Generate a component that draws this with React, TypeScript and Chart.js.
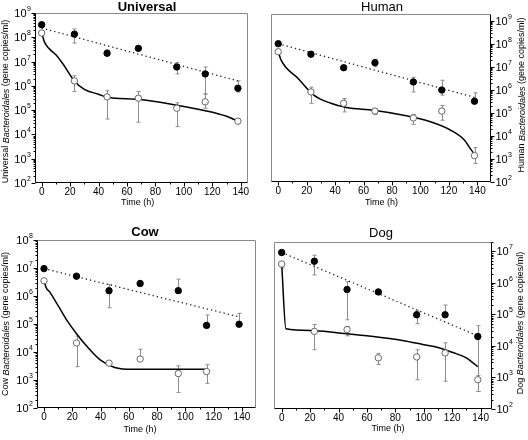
import React, { useEffect, useRef } from 'react';
import { Chart, registerables } from 'chart.js';
Chart.register(...registerables);

const FONT = '"Liberation Sans", Arial, sans-serif';
const xTickValues = [0, 20, 40, 60, 80, 100, 120, 140];

const hours = [0, 23, 46, 68, 95, 115, 138];
const cowOpenHours = [0, 23, 46, 68, 95, 115];

// ---- Universal ----
const uniFilled = [3.3e8, 1.35e8, 2.2e7, 3.5e7, 6.0e6, 3.1e6, 8.0e5];
const uniFilledHi = [3.3e8, 2.2e8, 3.0e7, 4.0e7, 9.1e6, 6.0e6, 1.6e6];
const uniFilledLo = [3.3e8, 5.8e7, 1.8e7, 3.2e7, 3.1e6, 4.6e5, 5.6e5];
const uniOpen = [1.5e8, 1.6e6, 3.5e5, 3.1e5, 1.2e5, 2.2e5, 3.5e4];
const uniOpenHi = [1.5e8, 2.6e6, 6.3e5, 5.8e5, 2.0e5, 4.6e5, 3.5e4];
const uniOpenLo = [1.5e8, 5.8e5, 4.3e4, 3.2e4, 2.1e4, 1.2e5, 3.5e4];
const uniFitT = [0, 2, 5, 10, 15, 23, 30, 40, 46, 68, 95, 115, 130, 138];
const uniFitV = [1.5e8, 6.3e7, 3.5e7, 1.9e7, 7.9e6, 1.6e6, 7.2e5, 4.5e5, 3.4e5, 2.8e5, 1.6e5, 9.5e4, 5.6e4, 3.5e4];
const uniTrendT = [0, 138];
const uniTrendV = [2.4e8, 1.6e6];

// ---- Human ----
const humFilled = [1.0e8, 3.5e7, 9.1e6, 1.5e7, 2.2e6, 9.8e5, 3.2e5];
const humFilledHi = [1.0e8, 3.5e7, 1.1e7, 2.1e7, 3.5e6, 2.6e6, 7.4e5];
const humFilledLo = [1.0e8, 3.5e7, 7.5e6, 1.0e7, 8.1e5, 5.9e5, 3.2e5];
const humOpen = [4.5e7, 8.1e5, 2.6e5, 1.2e5, 6.0e4, 1.2e5, 1.4e3];
const humOpenHi = [4.5e7, 1.3e6, 4.2e5, 1.5e5, 8.5e4, 2.1e5, 3.1e3];
const humOpenLo = [4.5e7, 2.6e5, 1.1e5, 8.5e4, 3.2e4, 4.8e4, 6.3e2];
const humFitT = [0, 2, 14, 25, 37, 48, 67, 88, 107, 121, 131, 135, 138];
const humFitV = [4.5e7, 1.95e7, 3.1e6, 5.9e5, 2.6e5, 1.7e5, 1.3e5, 7.9e4, 4.1e4, 1.8e4, 6.5e3, 2.8e3, 1.6e3];
const humTrendT = [0, 138];
const humTrendV = [1.0e8, 4.7e5];

// ---- Cow ----
const cowFilled = [9.5e6, 5.1e6, 1.55e6, 2.8e6, 1.55e6, 8.9e4, 9.8e4];
const cowFilledHi = [9.5e6, 5.1e6, 2.6e6, 3.3e6, 4.0e6, 2.1e5, 2.4e5];
const cowFilledLo = [9.5e6, 5.1e6, 3.8e5, 2.4e6, 1.55e6, 8.9e4, 9.8e4];
const cowOpen = [3.5e6, 2.1e4, 4.0e3, 5.6e3, 1.7e3, 2.0e3];
const cowOpenHi = [3.5e6, 3.7e4, 4.3e3, 1.26e4, 3.2e3, 3.5e3];
const cowOpenLo = [3.5e6, 3.0e3, 4.0e3, 5.6e3, 3.6e2, 7.6e2];
const cowFitT = [0, 1.5, 4, 10, 16, 23, 30, 40, 50, 63, 80, 115];
const cowFitV = [3.5e6, 2.0e6, 1.4e6, 4.5e5, 1.4e5, 4.5e4, 1.66e4, 5.1e3, 2.8e3, 2.4e3, 2.4e3, 2.4e3];
const cowTrendT = [0, 138];
const cowTrendV = [9.5e6, 1.8e5];

// ---- Dog ----
const dogFilled = [9.3e6, 4.9e6, 6.2e5, 5.2e5, 9.8e4, 9.8e4, 2.0e4];
const dogFilledHi = [9.3e6, 7.6e6, 1.1e6, 5.2e5, 1.3e5, 2.0e5, 4.4e4];
const dogFilledLo = [9.3e6, 1.8e6, 6.8e4, 5.2e5, 5.1e4, 9.8e4, 3.6e2];
const dogOpen = [4.0e6, 2.9e4, 3.3e4, 4.2e3, 4.5e3, 6.0e3, 8.5e2];
const dogOpenHi = [4.0e6, 4.8e4, 4.2e4, 5.8e3, 7.6e3, 1.26e4, 1.15e3];
const dogOpenLo = [3.0e6, 7.6e3, 2.1e4, 2.6e3, 8.5e2, 7.6e2, 3.6e2];
const dogFitT = [0, 3, 20, 40, 60, 85, 100, 110, 120, 130, 136, 138];
const dogFitV = [4.0e6, 3.5e4, 3.1e4, 2.6e4, 2.1e4, 1.5e4, 1.1e4, 8.9e3, 6.3e3, 4.2e3, 2.6e3, 2.2e3];
const dogTrendT = [0, 138];
const dogTrendV = [9.3e6, 2.1e4];

const pts = (xs: number[], ys: number[]) => xs.map((x, i) => ({ x, y: ys[i] }));

type Panel = {
  name: string; boldTitle: boolean; left: number; top: number;
  pad: { left: number; top: number; right: number; bottom: number };
  yW: number; xH: number; yPos: 'left' | 'right';
  xMin: number; xMax: number; yMin: number; yMax: number;
  titleXY: [number, number]; yTitleXY: [number, number]; xTitleXY: [number, number];
  filledT: number[]; filled: number[]; filledHi: number[]; filledLo: number[];
  openT: number[]; open: number[]; openHi: number[]; openLo: number[];
  fitT: number[]; fitV: number[]; trendT: number[]; trendV: number[];
};

const panels: Panel[] = [
  {
    name: 'Universal', boldTitle: true, left: 0, top: 0,
    pad: { left: 0, top: 13, right: 16, bottom: 0 }, yW: 35, xH: 37, yPos: 'left',
    xMin: -4.7, xMax: 145.1, yMin: 1e2, yMax: 1e9,
    titleXY: [147, 7], yTitleXY: [6, 101.5], xTitleXY: [137.7, 203],
    filledT: hours, filled: uniFilled, filledHi: uniFilledHi, filledLo: uniFilledLo,
    openT: hours, open: uniOpen, openHi: uniOpenHi, openLo: uniOpenLo,
    fitT: uniFitT, fitV: uniFitV, trendT: uniTrendT, trendV: uniTrendV,
  },
  {
    name: 'Human', boldTitle: false, left: 264, top: 0,
    pad: { left: 7, top: 14, right: 0, bottom: 0 }, yW: 37, xH: 38, yPos: 'right',
    xMin: -5.1, xMax: 149.6, yMin: 1e2, yMax: 1.95e9,
    titleXY: [118, 7], yTitleXY: [258, 95], xTitleXY: [117.5, 203],
    filledT: hours, filled: humFilled, filledHi: humFilledHi, filledLo: humFilledLo,
    openT: hours, open: humOpen, openHi: humOpenHi, openLo: humOpenLo,
    fitT: humFitT, fitV: humFitV, trendT: humTrendT, trendV: humTrendV,
  },
  {
    name: 'Cow', boldTitle: true, left: 0, top: 220,
    pad: { left: 0, top: 20, right: 8.5, bottom: 0 }, yW: 36.5, xH: 32, yPos: 'left',
    xMin: -5.3, xMax: 149.6, yMin: 1e2, yMax: 1e8,
    titleXY: [145, 12], yTitleXY: [6, 104], xTitleXY: [140, 210],
    filledT: hours, filled: cowFilled, filledHi: cowFilledHi, filledLo: cowFilledLo,
    openT: cowOpenHours, open: cowOpen, openHi: cowOpenHi, openLo: cowOpenLo,
    fitT: cowFitT, fitV: cowFitV, trendT: cowTrendT, trendV: cowTrendV,
  },
  {
    name: 'Dog', boldTitle: false, left: 264, top: 220,
    pad: { left: 10, top: 22, right: 0, bottom: 0 }, yW: 36, xH: 31, yPos: 'right',
    xMin: -5.4, xMax: 148, yMin: 1e2, yMax: 2.0e7,
    titleXY: [117, 13], yTitleXY: [256.7, 103], xTitleXY: [124, 209],
    filledT: hours, filled: dogFilled, filledHi: dogFilledHi, filledLo: dogFilledLo,
    openT: hours, open: dogOpen, openHi: dogOpenHi, openLo: dogOpenLo,
    fitT: dogFitT, fitV: dogFitV, trendT: dogTrendT, trendV: dogTrendV,
  },
];

const decorPlugin = {
  id: 'decor',
  beforeDatasetsDraw(chart: any, _a: any, opts: any) {
    const ctx = chart.ctx;
    const xs = chart.scales.x, ys = chart.scales.y;
    ctx.save();
    ctx.strokeStyle = '#8c8c8c';
    ctx.lineWidth = 1;
    for (const eb of opts.errorBars || []) {
      eb.t.forEach((t: number, i: number) => {
        const px = Math.round(xs.getPixelForValue(t)) + 0.5;
        const yv = ys.getPixelForValue(eb.v[i]);
        const yh = ys.getPixelForValue(eb.hi[i]);
        const yl = ys.getPixelForValue(eb.lo[i]);
        ctx.beginPath();
        if (yv - yh > 1) {
          ctx.moveTo(px, yv); ctx.lineTo(px, yh);
          ctx.moveTo(px - 2, yh); ctx.lineTo(px + 2, yh);
        }
        if (yl - yv > 1) {
          ctx.moveTo(px, yv); ctx.lineTo(px, yl);
          ctx.moveTo(px - 2, yl); ctx.lineTo(px + 2, yl);
        }
        ctx.stroke();
      });
    }
    ctx.restore();
  },
  afterDraw(chart: any, _a: any, opts: any) {
    const ctx = chart.ctx;
    const { left, right, top, bottom } = chart.chartArea;
    const xs = chart.scales.x, ys = chart.scales.y;
    const L = Math.round(left) + 0.5, R = Math.round(right) - 0.5;
    const T = Math.round(top) + 0.5, B = Math.round(bottom) - 0.5;
    const yRight = opts.yPos === 'right';
    ctx.save();
    ctx.lineWidth = 1;
    // gray frame sides
    ctx.strokeStyle = '#8a8a8a';
    ctx.beginPath();
    ctx.moveTo(L, T); ctx.lineTo(R, T);
    if (yRight) { ctx.moveTo(L, T); ctx.lineTo(L, B); } else { ctx.moveTo(R, T); ctx.lineTo(R, B); }
    ctx.stroke();
    // black axes
    ctx.strokeStyle = '#000';
    ctx.beginPath();
    ctx.moveTo(L, B); ctx.lineTo(R, B);
    const AX = yRight ? R : L;
    ctx.moveTo(AX, T); ctx.lineTo(AX, B);
    const dir = yRight ? 1 : -1;
    const d0 = Math.floor(Math.log10(ys.min)), d1 = Math.ceil(Math.log10(ys.max));
    const decadeLabels: { py: number; e: number }[] = [];
    for (let d = d0; d <= d1; d++) {
      for (let k = 1; k <= 9; k++) {
        const v = k * Math.pow(10, d);
        if (v < ys.min * 0.999 || v > ys.max * 1.001) continue;
        const py = Math.round(ys.getPixelForValue(v)) + 0.5;
        const len = k === 1 ? 4 : 2;
        ctx.moveTo(AX, py); ctx.lineTo(AX + dir * len, py);
        if (k === 1) decadeLabels.push({ py, e: d });
      }
    }
    for (let t = 0; t <= 140; t += 10) {
      const px = Math.round(xs.getPixelForValue(t)) + 0.5;
      const len = t % 20 === 0 ? 4 : 2;
      ctx.moveTo(px, B); ctx.lineTo(px, B + len);
    }
    ctx.stroke();

    // y decade labels: 10 with raised exponent
    ctx.fillStyle = '#000';
    ctx.textBaseline = 'middle';
    ctx.textAlign = 'left';
    for (const lab of decadeLabels) {
      ctx.font = `11px ${FONT}`;
      const w10 = ctx.measureText('10').width;
      ctx.font = `7px ${FONT}`;
      const we = ctx.measureText(String(lab.e)).width;
      const x0 = yRight ? AX + 5 : AX - 5 - w10 - we;
      ctx.font = `11px ${FONT}`;
      ctx.fillText('10', x0, lab.py + 0.5);
      ctx.font = `7px ${FONT}`;
      ctx.fillText(String(lab.e), x0 + w10 + 0.3, lab.py - 4);
    }

    // texts
    ctx.textAlign = 'center';
    ctx.font = `${opts.boldTitle ? 'bold ' : ''}13px ${FONT}`;
    ctx.fillText(opts.title, opts.titleXY[0], opts.titleXY[1]);
    ctx.font = `9px ${FONT}`;
    ctx.fillText('Time (h)', opts.xTitleXY[0], opts.xTitleXY[1]);

    const segs = [
      { t: opts.title + ' ', i: false },
      { t: 'Bacteroidales', i: true },
      { t: ' (gene copies/ml)', i: false },
    ];
    ctx.translate(opts.yTitleXY[0], opts.yTitleXY[1]);
    ctx.rotate(-Math.PI / 2);
    let total = 0;
    const widths = segs.map((s) => {
      ctx.font = `${s.i ? 'italic ' : ''}9px ${FONT}`;
      const w = ctx.measureText(s.t).width;
      total += w;
      return w;
    });
    let x = -total / 2;
    ctx.textAlign = 'left';
    segs.forEach((s, k) => {
      ctx.font = `${s.i ? 'italic ' : ''}9px ${FONT}`;
      ctx.fillText(s.t, x, 0);
      x += widths[k];
    });
    ctx.restore();
  },
};

function PanelChart({ p }: { p: Panel }) {
  const ref = useRef<HTMLCanvasElement>(null);
  useEffect(() => {
    if (!ref.current) return;
    const d0 = Math.ceil(Math.log10(p.yMin) - 1e-9);
    const d1 = Math.floor(Math.log10(p.yMax) + 1e-9);
    const decades: number[] = [];
    for (let d = d0; d <= d1; d++) decades.push(Math.pow(10, d));

    const chart = new Chart(ref.current, {
      type: 'scatter',
      data: {
        datasets: [
          {
            data: pts(p.filledT, p.filled), showLine: false,
            pointRadius: 3.2, pointBackgroundColor: '#000', pointBorderColor: '#000', pointBorderWidth: 1,
          },
          {
            data: pts(p.openT, p.open), showLine: false,
            pointRadius: 3.2, pointBackgroundColor: '#fff', pointBorderColor: '#666', pointBorderWidth: 1,
          },
          {
            data: pts(p.fitT, p.fitV), showLine: true, pointRadius: 0,
            borderColor: '#000', borderWidth: 1.5, cubicInterpolationMode: 'monotone',
          },
          {
            data: pts(p.trendT, p.trendV), showLine: true, pointRadius: 0,
            borderColor: '#222', borderWidth: 1.3, borderDash: [1.3, 3],
          },
        ] as any,
      },
      options: {
        responsive: false,
        animation: false,
        devicePixelRatio: 1,
        events: [],
        layout: { padding: p.pad },
        plugins: {
          legend: { display: false },
          tooltip: { enabled: false },
          title: { display: false },
          decor: {
            yPos: p.yPos, title: p.name, boldTitle: p.boldTitle,
            titleXY: p.titleXY, yTitleXY: p.yTitleXY, xTitleXY: p.xTitleXY,
            errorBars: [
              { t: p.filledT, v: p.filled, hi: p.filledHi, lo: p.filledLo },
              { t: p.openT, v: p.open, hi: p.openHi, lo: p.openLo },
            ],
          },
        } as any,
        scales: {
          x: {
            type: 'linear', min: p.xMin, max: p.xMax,
            afterBuildTicks: (s: any) => { s.ticks = xTickValues.map((v) => ({ value: v })); },
            afterFit: (s: any) => { s.height = p.xH; },
            grid: { display: false, drawTicks: false },
            border: { display: false },
            ticks: { padding: 3, color: '#000', font: { family: FONT, size: 10 }, maxRotation: 0, autoSkip: false },
          },
          y: {
            type: 'logarithmic', position: p.yPos, min: p.yMin, max: p.yMax,
            afterBuildTicks: (s: any) => { s.ticks = decades.map((v) => ({ value: v })); },
            afterFit: (s: any) => { s.width = p.yW; },
            grid: { display: false, drawTicks: false },
            border: { display: false },
            ticks: { display: false },
          },
        } as any,
      },
      plugins: [decorPlugin],
    });
    return () => chart.destroy();
  }, [p]);
  return (
    <canvas
      ref={ref}
      width={264}
      height={220}
      style={{ position: 'absolute', left: p.left, top: p.top, width: 264, height: 220 }}
    />
  );
}

export default function App() {
  return (
    <div style={{ position: 'absolute', left: 0, top: 0, width: 528, height: 440, background: '#fff' }}>
      {panels.map((p) => (
        <PanelChart key={p.name} p={p} />
      ))}
    </div>
  );
}
